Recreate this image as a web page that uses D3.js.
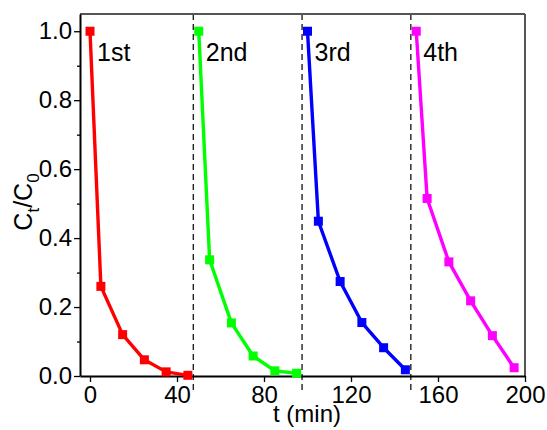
<!DOCTYPE html>
<html>
<head>
<meta charset="utf-8">
<script src="https://cdn.jsdelivr.net/npm/d3@7"></script>
<style>
  html, body { margin: 0; padding: 0; background: #fff; }
  svg text { font-family: "Liberation Sans", Arial, sans-serif; }
</style>
</head>
<body>
<svg id="chart" width="547" height="430"></svg>
<script>
// ---- data ----
const cycleNames = ["1st", "2nd", "3rd", "4th"];
const cycleColors = ["#ff0000", "#00ff00", "#0000ff", "#ff00ff"];
const time1 = [0, 5, 15, 25, 35, 45];
const ratio1 = [1.0, 0.26, 0.12, 0.047, 0.012, 0.002];
const time2 = [50, 55, 65, 75, 85, 95];
const ratio2 = [1.0, 0.337, 0.154, 0.058, 0.015, 0.008];
const time3 = [100, 105, 115, 125, 135, 145];
const ratio3 = [1.0, 0.449, 0.274, 0.155, 0.082, 0.018];
const time4 = [150, 155, 165, 175, 185, 195];
const ratio4 = [1.0, 0.515, 0.331, 0.218, 0.117, 0.024];
const separators = [47.5, 97.5, 147.5];
const xTicks = [0, 40, 80, 120, 160, 200];
const yTicks = [0.0, 0.2, 0.4, 0.6, 0.8, 1.0];
const yMinorTicks = [0.1, 0.3, 0.5, 0.7, 0.9];

const series = [
  { name: cycleNames[0], color: cycleColors[0], t: time1, r: ratio1 },
  { name: cycleNames[1], color: cycleColors[1], t: time2, r: ratio2 },
  { name: cycleNames[2], color: cycleColors[2], t: time3, r: ratio3 },
  { name: cycleNames[3], color: cycleColors[3], t: time4, r: ratio4 }
];

const svg = d3.select("#chart");
const L = 80, R = 525, T = 14, B = 376;
const x = d3.scaleLinear().domain([-4.6, 200]).range([L, R]);
const y = d3.scaleLinear().domain([0, 1.05]).range([B, T]);
const FS = "24px";

// separators (dashed)
svg.append("g").selectAll("line").data(separators).join("line")
  .attr("x1", d => x(d)).attr("x2", d => x(d))
  .attr("y1", y(1.05)).attr("y2", y(-0.05))
  .attr("stroke", "#222").attr("stroke-width", 1.4)
  .attr("stroke-dasharray", "6,4");

// frame top/right
svg.append("line").attr("x1", L).attr("x2", R).attr("y1", T).attr("y2", T)
  .attr("stroke", "#555").attr("stroke-width", 2);
svg.append("line").attr("x1", R).attr("x2", R).attr("y1", T).attr("y2", B)
  .attr("stroke", "#555").attr("stroke-width", 2);

// axes
const xAxis = d3.axisBottom(x).tickValues(xTicks).tickFormat(d3.format("d"))
  .tickSizeInner(6).tickSizeOuter(0).tickPadding(4);
const gx = svg.append("g").attr("transform", `translate(0,${B})`).call(xAxis);
const yAxis = d3.axisLeft(y).tickValues(yTicks).tickFormat(d3.format(".1f"))
  .tickSizeInner(6).tickSizeOuter(0).tickPadding(2);
const gy = svg.append("g").attr("transform", `translate(${L},0)`).call(yAxis);
const gyMinor = svg.append("g").attr("transform", `translate(${L},0)`)
  .call(d3.axisLeft(y).tickValues(yMinorTicks).tickFormat("").tickSizeInner(3).tickSizeOuter(0));
gyMinor.select(".domain").remove();
[gx, gy, gyMinor].forEach(g => {
  g.selectAll(".domain").attr("stroke", "#000").attr("stroke-width", 2);
  g.selectAll(".tick line").attr("stroke", "#000").attr("stroke-width", 1.3);
  g.selectAll(".tick text").attr("fill", "#000")
    .style("font-size", FS).style("font-family", "'Liberation Sans', Arial, sans-serif");
});

// lines and markers
const line = d3.line().x(d => x(d[0])).y(d => y(d[1]));
series.forEach(s => {
  const pts = s.t.map((t, i) => [t, s.r[i]]);
  svg.append("path").datum(pts).attr("d", line)
    .attr("fill", "none").attr("stroke", s.color).attr("stroke-width", 3.4)
    .attr("stroke-linejoin", "round");
  svg.append("g").selectAll("rect").data(pts).join("rect")
    .attr("x", d => x(d[0]) - 4.5).attr("y", d => y(d[1]) - 4.5)
    .attr("width", 9).attr("height", 9).attr("fill", s.color);
  svg.append("text").attr("x", x(s.t[0]) + 7).attr("y", 61)
    .style("font-size", "25px").attr("fill", "#000").text(s.name);
});

// axis titles
svg.append("text").attr("x", 307).attr("y", 422).attr("text-anchor", "middle")
  .style("font-size", FS).text("t (min)");
const yt = svg.append("text")
  .attr("transform", `translate(32,${202}) rotate(-90)`)
  .attr("text-anchor", "middle").style("font-size", "25px");
yt.append("tspan").text("C");
yt.append("tspan").attr("dy", 7).style("font-size", "17px").text("t");
yt.append("tspan").attr("dy", -7).text("/C");
yt.append("tspan").attr("dy", 7).style("font-size", "17px").text("0");
</script>
</body>
</html>
